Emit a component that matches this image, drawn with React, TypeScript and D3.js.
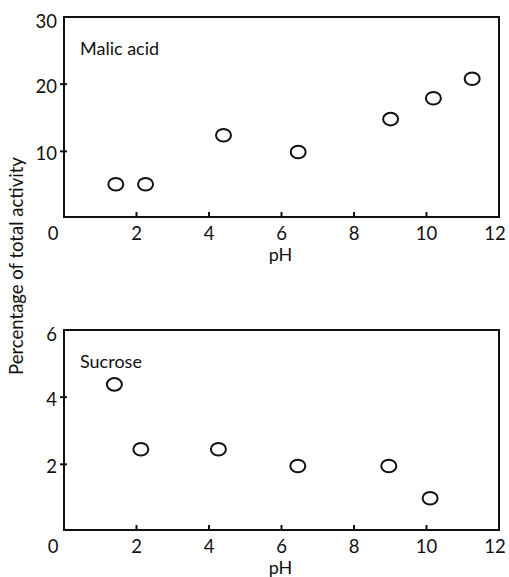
import React from "react";
import * as d3 from "d3";

const malicPH = [1.43, 2.25, 4.4, 6.46, 9.01, 10.19, 11.26];
const malicPct = [5.1, 5.1, 12.4, 9.9, 14.8, 17.9, 20.8];
const sucrosePH = [1.39, 2.12, 4.26, 6.45, 8.96, 10.1];
const sucrosePct = [4.38, 2.45, 2.45, 1.95, 1.95, 0.99];
const xTicks = [0, 2, 4, 6, 8, 10, 12];
const malicYTicks = [10, 20, 30];
const sucroseYTicks = [2, 4, 6];

const FONT = "Lato, 'Open Sans', sans-serif";
const FS = 18.5;

type PanelProps = {
  top: number;
  bottom: number;
  yMax: number;
  yTicks: number[];
  xs: number[];
  ys: number[];
  label: string;
};

const x = d3.scaleLinear().domain([0, 12]).range([64, 499]);

function Panel({ top, bottom, yMax, yTicks, xs, ys, label }: PanelProps) {
  const y = d3.scaleLinear().domain([0, yMax]).range([bottom + 1.5, top]);
  return (
    <g>
      <rect
        x={x(0)}
        y={top}
        width={x(12) - x(0)}
        height={bottom - top}
        fill="none"
        stroke="#111"
        strokeWidth={2}
      />
      {xTicks.slice(1, -1).map((t) => (
        <line key={"xt" + t} x1={x(t)} x2={x(t)} y1={bottom} y2={bottom - 5} stroke="#111" strokeWidth={2} />
      ))}
      {xTicks.map((t) => (
        <text
          key={"xl" + t}
          x={x(t) + (t === 0 ? -11 : t === 12 ? -4 : 0)}
          y={bottom + 22.5}
          textAnchor="middle"
          fontSize={FS}
          fontFamily={FONT}
          fill="#111"
        >
          {t}
        </text>
      ))}
      {yTicks.slice(0, -1).map((t) => (
        <line key={"yt" + t} x1={x(0) - 4} x2={x(0) + 3} y1={y(t)} y2={y(t)} stroke="#111" strokeWidth={2} />
      ))}
      {yTicks.map((t, i) => (
        <text
          key={"yl" + t}
          x={57}
          y={y(t) + (i === yTicks.length - 1 ? 4 : 2)}
          textAnchor="end"
          dominantBaseline="central"
          fontSize={FS}
          fontFamily={FONT}
          fill="#111"
        >
          {t}
        </text>
      ))}
      <text
        x={(x(0) + x(12)) / 2 - 1}
        y={bottom + 43.5}
        textAnchor="middle"
        fontSize={18}
        fontFamily={FONT}
        fill="#111"
      >
        pH
      </text>
      <text x={80} y={top + 38} fontSize={18} fontFamily={FONT} fill="#111">
        {label}
      </text>
      {xs.map((v, i) => (
        <ellipse
          key={"p" + i}
          cx={x(v)}
          cy={y(ys[i])}
          rx={7.5}
          ry={6.3}
          fill="white"
          stroke="#111"
          strokeWidth={2}
        />
      ))}
    </g>
  );
}

export default function App() {
  return (
    <svg width={509} height={577} style={{ position: "absolute", left: 0, top: 0, background: "white" }}>
      <rect width={509} height={577} fill="white" />
      <Panel
        top={17}
        bottom={217}
        yMax={30}
        yTicks={malicYTicks}
        xs={malicPH}
        ys={malicPct}
        label="Malic acid"
      />
      <Panel
        top={330}
        bottom={530}
        yMax={6}
        yTicks={sucroseYTicks}
        xs={sucrosePH}
        ys={sucrosePct}
        label="Sucrose"
      />
      <text
        transform="translate(23,266) rotate(-90)"
        textAnchor="middle"
        fontSize={18.5}
        fontFamily={FONT}
        fill="#111"
      >
        Percentage of total activity
      </text>
    </svg>
  );
}
